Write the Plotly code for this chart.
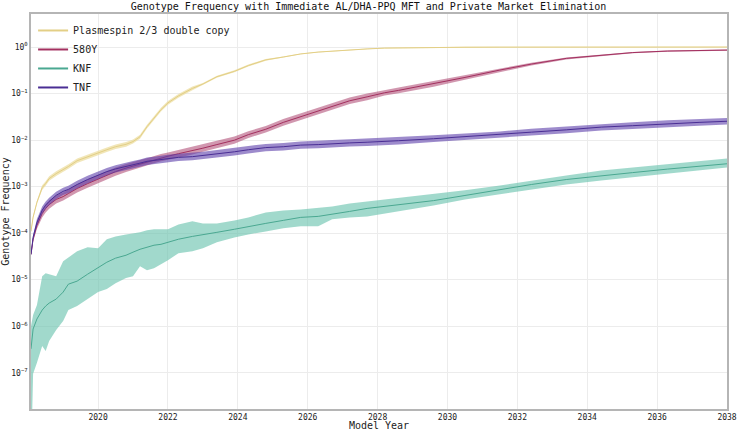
import plotly.graph_objects as go

# model years (shared time axis)
years = [2018.08, 2018.14, 2018.25, 2018.4, 2018.5, 2018.6, 2018.8, 2019.0, 2019.15, 2019.4,
         2019.7, 2020.0, 2020.25, 2020.5, 2020.8, 2021.0, 2021.2, 2021.4, 2021.6, 2021.8,
         2022.0, 2022.3, 2022.7, 2023.0, 2023.4, 2023.9, 2024.3, 2024.8, 2025.3, 2025.8,
         2026.3, 2026.7, 2027.2, 2027.7, 2028.2, 2028.6, 2029.6, 2030.5, 2031.5, 2032.4,
         2033.4, 2034.4, 2035.3, 2036.3, 2037.2, 2038.0]

# median genotype frequencies
plasmepsin = [1.1e-4, 2.2e-4, 4.6e-4, 9.5e-4, 1.17e-3, 1.49e-3, 1.9e-3, 2.3e-3, 2.7e-3, 3.6e-3,
              4.4e-3, 5.4e-3, 6.2e-3, 7.2e-3, 8.1e-3, 9.3e-3, 1.18e-2, 1.94e-2, 2.9e-2, 4.5e-2,
              6.3e-2, 8.9e-2, 0.129, 0.16, 0.23, 0.30, 0.40, 0.53, 0.61, 0.71,
              0.78, 0.82, 0.86, 0.91, 0.95, 0.96, 0.98, 0.99, 0.995, 0.997,
              0.998, 0.999, 0.999, 1.0, 1.0, 1.0]
y580 = [3.5e-5, 7.4e-5, 1.47e-4, 2.65e-4, 3.4e-4, 4.1e-4, 5.3e-4, 6.1e-4, 7.1e-4, 9.1e-4,
        1.16e-3, 1.46e-3, 1.77e-3, 2.1e-3, 2.5e-3, 2.76e-3, 3.1e-3, 3.4e-3, 3.8e-3, 4.2e-3,
        4.5e-3, 5.1e-3, 5.9e-3, 6.7e-3, 8.0e-3, 9.95e-3, 1.31e-2, 1.71e-2, 2.4e-2, 3.2e-2,
        4.3e-2, 5.3e-2, 7.0e-2, 8.5e-2, 0.104, 0.117, 0.161, 0.222, 0.32, 0.43,
        0.57, 0.67, 0.76, 0.82, 0.85, 0.86]
knf = [3.25e-7, 8.7e-7, 1.43e-6, 2.22e-6, 2.71e-6, 3.14e-6, 3.82e-6, 5.4e-6, 8.0e-6, 9.3e-6,
       1.31e-5, 1.85e-5, 2.37e-5, 2.9e-5, 3.35e-5, 3.9e-5, 4.5e-5, 4.97e-5, 5.5e-5, 5.75e-5,
       6.35e-5, 7.4e-5, 8.5e-5, 9.4e-5, 1.04e-4, 1.21e-4, 1.40e-4, 1.62e-4, 1.88e-4, 2.18e-4,
       2.29e-4, 2.53e-4, 2.93e-4, 3.4e-4, 3.75e-4, 4.14e-4, 5.0e-4, 6.45e-4, 8.7e-4, 1.11e-3,
       1.42e-3, 1.73e-3, 2.0e-3, 2.38e-3, 2.76e-3, 3.1e-3]
tnf = [3.5e-5, 8.1e-5, 1.7e-4, 3.1e-4, 4.0e-4, 4.8e-4, 6.5e-4, 7.9e-4, 8.7e-4, 1.11e-3,
       1.42e-3, 1.77e-3, 2.1e-3, 2.4e-3, 2.76e-3, 2.97e-3, 3.2e-3, 3.5e-3, 3.65e-3, 3.9e-3,
       4.05e-3, 4.25e-3, 4.4e-3, 4.65e-3, 5.1e-3, 5.6e-3, 6.2e-3, 6.9e-3, 7.2e-3, 7.8e-3,
       8.0e-3, 8.4e-3, 8.7e-3, 9.0e-3, 9.3e-3, 9.7e-3, 1.07e-2, 1.18e-2, 1.30e-2, 1.48e-2,
       1.66e-2, 1.9e-2, 2.04e-2, 2.25e-2, 2.4e-2, 2.54e-2]

# KNF interval (upper / lower)
knf_hi = [1.01e-6, 1.74e-6, 2.85e-6, 1.19e-5, 1.38e-5, 1.31e-5, 1.19e-5, 2.49e-5, 3.03e-5, 4.07e-5,
          4.97e-5, 4.73e-5, 7.4e-5, 8.5e-5, 9.4e-5, 9.9e-5, 1.04e-4, 1.15e-4, 1.21e-4, 1.21e-4,
          1.21e-4, 1.54e-4, 1.79e-4, 1.62e-4, 1.62e-4, 1.88e-4, 2.18e-4, 2.79e-4, 3.08e-4, 3.23e-4,
          3.57e-4, 3.75e-4, 4.35e-4, 4.8e-4, 5.3e-4, 5.85e-4, 7.1e-4, 8.3e-4, 1.06e-3, 1.35e-3,
          1.73e-3, 2.21e-3, 2.56e-3, 2.97e-3, 3.45e-3, 4.0e-3]
knf_lo = [1e-9, 9.5e-8, 1.63e-7, 3.77e-7, 2.94e-7, 4.8e-7, 8.3e-7, 1.29e-6, 2.22e-6, 2.71e-6,
          3.82e-6, 5.4e-6, 6.3e-6, 8.4e-6, 1.08e-5, 1.19e-5, 1.95e-5, 1.6e-5, 1.76e-5, 2.15e-5,
          2.62e-5, 3.7e-5, 4.07e-5, 4.73e-5, 6.35e-5, 8.1e-5, 9.4e-5, 1.09e-4, 1.27e-4, 1.40e-4,
          1.40e-4, 1.98e-4, 2.18e-4, 2.29e-4, 2.65e-4, 2.93e-4, 3.94e-4, 5.3e-4, 6.8e-4, 8.7e-4,
          1.11e-3, 1.35e-3, 1.57e-3, 1.91e-3, 2.21e-3, 2.56e-3]

# interval spread (upper/median ratio) for the narrower bands
plasmepsin_spread = [1.08, 1.08, 1.08, 1.12, 1.12, 1.12, 1.12, 1.12, 1.12, 1.12,
                     1.12, 1.12, 1.12, 1.12, 1.12, 1.1, 1.1, 1.1, 1.1, 1.1,
                     1.1, 1.1, 1.1, 1.05, 1.05, 1.05, 1.05, 1.05, 1.02, 1.02,
                     1.02, 1.02, 1.02, 1.02, 1.02, 1.02, 1.02, 1.02, 1.02, 1.02,
                     1.02, 1.02, 1.02, 1.02, 1.02, 1.02]
y580_spread = [1.05, 1.12, 1.18, 1.22, 1.22, 1.22, 1.22, 1.22, 1.22, 1.22,
               1.22, 1.22, 1.22, 1.22, 1.22, 1.2, 1.2, 1.2, 1.2, 1.2,
               1.2, 1.2, 1.2, 1.2, 1.2, 1.2, 1.18, 1.18, 1.18, 1.18,
               1.18, 1.18, 1.18, 1.18, 1.15, 1.15, 1.15, 1.12, 1.1, 1.07,
               1.05, 1.03, 1.03, 1.03, 1.03, 1.03]
tnf_spread = [1.05, 1.12, 1.18, 1.2, 1.2, 1.2, 1.2, 1.2, 1.2, 1.2,
              1.2, 1.2, 1.2, 1.2, 1.2, 1.2, 1.2, 1.2, 1.2, 1.2,
              1.2, 1.2, 1.2, 1.2, 1.2, 1.2, 1.2, 1.2, 1.2, 1.2,
              1.2, 1.2, 1.2, 1.2, 1.2, 1.2, 1.18, 1.18, 1.18, 1.18,
              1.18, 1.18, 1.18, 1.18, 1.18, 1.18]

y_tickvals = [1, 1e-1, 1e-2, 1e-3, 1e-4, 1e-5, 1e-6, 1e-7]
y_ticktext = ["10<sup>0</sup>", "10<sup>−1</sup>", "10<sup>−2</sup>", "10<sup>−3</sup>",
              "10<sup>−4</sup>", "10<sup>−5</sup>", "10<sup>−6</sup>", "10<sup>−7</sup>"]
x_tickvals = [2020, 2022, 2024, 2026, 2028, 2030, 2032, 2034, 2036, 2038]

FONT = "DejaVu Sans Mono"

series = [
    ("Plasmespin 2/3 double copy", plasmepsin,
     [v * s for v, s in zip(plasmepsin, plasmepsin_spread)],
     [v / s for v, s in zip(plasmepsin, plasmepsin_spread)],
     "#e3cf86", "rgba(236,221,160,0.75)"),
    ("580Y", y580,
     [v * s for v, s in zip(y580, y580_spread)],
     [v / s for v, s in zip(y580, y580_spread)],
     "#a3305f", "rgba(163,48,95,0.5)"),
    ("KNF", knf, knf_hi, knf_lo, "#4aa891", "rgba(110,196,176,0.65)"),
    ("TNF", tnf,
     [v * s for v, s in zip(tnf, tnf_spread)],
     [v / s for v, s in zip(tnf, tnf_spread)],
     "#4a2e94", "rgba(92,62,170,0.6)"),
]

fig = go.Figure()
for name, mid, hi, lo, lc, fc in series:
    fig.add_trace(go.Scatter(x=years, y=hi, mode="lines", line=dict(width=0),
                             showlegend=False, hoverinfo="skip"))
    fig.add_trace(go.Scatter(x=years, y=lo, mode="lines", line=dict(width=0),
                             fill="tonexty", fillcolor=fc, showlegend=False,
                             hoverinfo="skip"))
    fig.add_trace(go.Scatter(x=years, y=mid, mode="lines", line=dict(color=lc, width=1),
                             showlegend=False, name=name))

# legend entries
for name, mid, hi, lo, lc, fc in series:
    fig.add_trace(go.Scatter(x=[None], y=[None], mode="lines", name=name,
                             line=dict(color=lc, width=2)))

fig.update_layout(
    width=737, height=431,
    margin=dict(l=31, r=10, t=14, b=22),
    paper_bgcolor="white", plot_bgcolor="white",
    font=dict(family=FONT, size=10, color="#222"),
    title=dict(text="Genotype Frequency with Immediate AL/DHA-PPQ MFT and Private Market Elimination",
               x=0.5, xref="container", xanchor="center",
               y=0.986, yref="container", yanchor="middle",
               font=dict(family=FONT, size=10, color="#111")),
    legend=dict(x=0.003, y=0.995, xanchor="left", yanchor="top", traceorder="normal",
                bgcolor="rgba(255,255,255,0)", font=dict(family=FONT, size=10),
                tracegroupgap=0, itemwidth=30),
    showlegend=True,
)
fig.update_xaxes(range=[2018.08, 2038], tickvals=x_tickvals, automargin=False,
                 showgrid=True, gridcolor="#ececec", gridwidth=1,
                 showline=True, linecolor="#b5b5b5", linewidth=1.5, mirror=True,
                 ticks="", tickfont=dict(size=8, family=FONT),
                 title=dict(text="Model Year", standoff=3, font=dict(size=10, family=FONT)),
                 zeroline=False)
fig.update_yaxes(type="log", range=[-7.78, 0.71], tickvals=y_tickvals, ticktext=y_ticktext,
                 automargin=False,
                 showgrid=True, gridcolor="#ececec", gridwidth=1,
                 showline=True, linecolor="#b5b5b5", linewidth=1.5, mirror=True,
                 ticks="", tickfont=dict(size=8, family=FONT),
                 title=dict(text="Genotype Frequency", standoff=0, font=dict(size=10, family=FONT)),
                 zeroline=False)

# page body has a default 8px margin; drop it so the figure fills the window
fig.write_html("out.html", config={"displayModeBar": False},
               post_script="document.body.style.margin = '0';")
